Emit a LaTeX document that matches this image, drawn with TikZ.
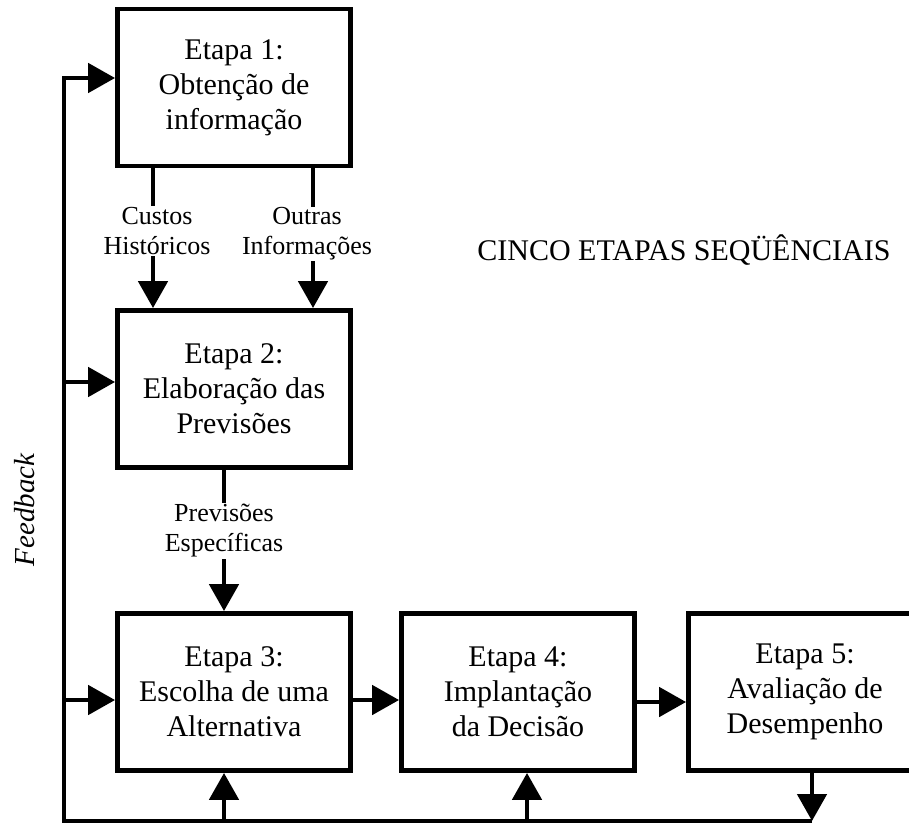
\documentclass[tikz,border=0pt]{standalone}
\usepackage{fontspec}
\setmainfont{Liberation Serif}
\usetikzlibrary{arrows.meta}
\begin{document}
\begin{tikzpicture}[x=1pt,y=-1pt,
  box/.style={draw, line width=4.8pt, minimum width=233pt, minimum height=157pt, align=center, inner sep=0pt, font=\fontsize{30}{35}\selectfont},
  lbl/.style={fill=white, align=center, inner sep=1pt, font=\fontsize{26}{30}\selectfont},
  conn/.style={line width=4.8pt, -{Triangle[length=27pt,width=29pt]}},
  plain/.style={line width=4.8pt}]
\clip (0,0) rectangle (909,824);
% boxes
\node[box] (b1) at (234,87.5) {Etapa 1:\\Obtenção de\\informação};
\node[box] (b2) at (234,389) {Etapa 2:\\Elaboração das\\Previsões};
\node[box] (b3) at (234,692) {Etapa 3:\\Escolha de uma\\Alternativa};
\node[box] (b4) at (518,692) {Etapa 4:\\Implantação\\da Decisão};
\node[box] (b5) at (805,692) {Etapa 5:\\Avaliação de\\Desempenho};
% helper coordinates
\coordinate (fb1) at (64,78);
\coordinate (fb2) at (64,382);
\coordinate (fb3) at (64,700);
\coordinate (bl) at (64,821);
\coordinate (br) at (812,821);
\coordinate (c1) at (153,0);
\coordinate (c2) at (313,0);
\coordinate (c3) at (224,0);
\coordinate (c4) at (527,0);
\coordinate (r3) at (0,700);
\coordinate (r4) at (0,702);
% feedback loop
\draw[conn] (br) -- (bl) -- (fb1) -- (fb1 -| b1.west);
\draw[conn] (fb2) -- (fb2 -| b2.west);
\draw[conn] (fb3) -- (fb3 -| b3.west);
\draw[conn] (b5.south -| br) -- (br);
\draw[conn] (bl -| c3) -- (b3.south -| c3);
\draw[conn] (bl -| c4) -- (b4.south -| c4);
% forward arrows
\draw[conn] (b1.south -| c1) -- (b2.north -| c1);
\draw[conn] (b1.south -| c2) -- (b2.north -| c2);
\draw[conn] (b2.south -| c3) -- (b3.north -| c3);
\draw[conn] (r3 -| b3.east) -- (r3 -| b4.west);
\draw[conn] (r4 -| b4.east) -- (r4 -| b5.west);
% labels
\node[lbl] (l1) at (157,231) {Custos\\Históricos};
\node[lbl] (l2) at (307,234) {Outras\\Informações};
\node[lbl] (l3) at (224,531) {Previsões\\Específicas};
\node[font=\fontsize{30}{35}\selectfont, anchor=base] (title) at (684,260) {CINCO ETAPAS SEQÜÊNCIAIS};
\node[rotate=90, font=\itshape\fontsize{29}{35}\selectfont] (fb) at (25,510) {Feedback};
\end{tikzpicture}
\end{document}
